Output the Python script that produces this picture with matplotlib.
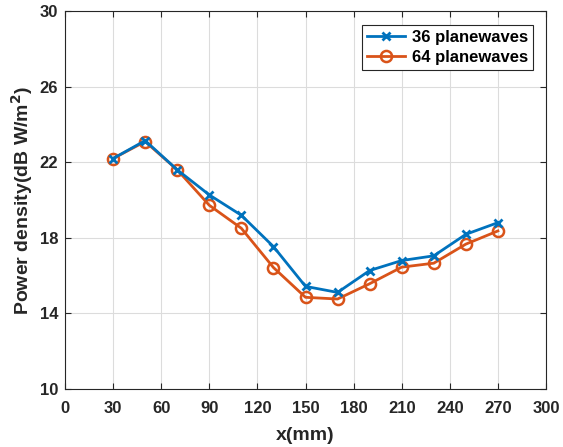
import matplotlib
matplotlib.use('Agg')
import matplotlib.pyplot as plt

plt.rcParams['font.family'] = ['Liberation Sans', 'DejaVu Sans']
plt.rcParams['font.weight'] = 'bold'

# data
x_mm = [30, 50, 70, 90, 110, 130, 150, 170, 190, 210, 230, 250, 270]
pw_36 = [22.2, 23.15, 21.6, 20.27, 19.19, 17.53, 15.42, 15.1, 16.26, 16.79, 17.04, 18.18, 18.8]
pw_64 = [22.2, 23.1, 21.6, 19.72, 18.5, 16.42, 14.84, 14.75, 15.56, 16.44, 16.65, 17.66, 18.36]

x_ticks = list(range(0, 301, 30))
y_ticks = [10, 14, 18, 22, 26, 30]

fig = plt.figure(figsize=(5.63, 4.47), dpi=100)
ax = fig.add_axes([65 / 563, 1 - 388.6 / 447, (546 - 65) / 563, (388.6 - 11.4) / 447])

ax.plot(x_mm, pw_36, color='#0072BD', linewidth=2, marker='x', markersize=6,
        markeredgewidth=2, label='36 planewaves', zorder=4)
ax.plot(x_mm, pw_64, color='#D95319', linewidth=2, marker='o', markersize=8,
        markerfacecolor='none', markeredgewidth=1.8, label='64 planewaves', zorder=3)

ax.set_xlim(0, 300)
ax.set_ylim(10, 30)
ax.set_xticks(x_ticks)
ax.set_yticks(y_ticks)
ax.grid(True, color='#dcdcdc', linewidth=0.8)
ax.set_axisbelow(True)

ax.tick_params(direction='in', top=True, right=True, length=4, width=0.8,
               colors='#262626', labelsize=12)
ax.tick_params(axis='x', pad=9)
ax.tick_params(axis='y', pad=5)
for lbl in ax.get_xticklabels() + ax.get_yticklabels():
    lbl.set_fontweight('bold')
for s in ax.spines.values():
    s.set_color('#262626')
    s.set_linewidth(0.8)

ax.set_xlabel('x(mm)', fontsize=14, fontweight='bold', color='#262626', labelpad=8)
ax.set_ylabel('Power density(dB W/m$^{\\mathbf{2}}$)', fontsize=14, fontweight='bold',
              color='#262626', labelpad=3)

leg = ax.legend(loc='upper right', bbox_to_anchor=((532.7 - 65) / 481, (388.6 - 25) / 377.2),
                borderaxespad=0, fontsize=12,
                frameon=True, fancybox=False, edgecolor='#262626', framealpha=1,
                handlelength=2.3, borderpad=0.3, labelspacing=0.3, handletextpad=0.4)
leg.get_frame().set_linewidth(0.8)

fig.savefig('out.png', dpi=100, facecolor='white')
